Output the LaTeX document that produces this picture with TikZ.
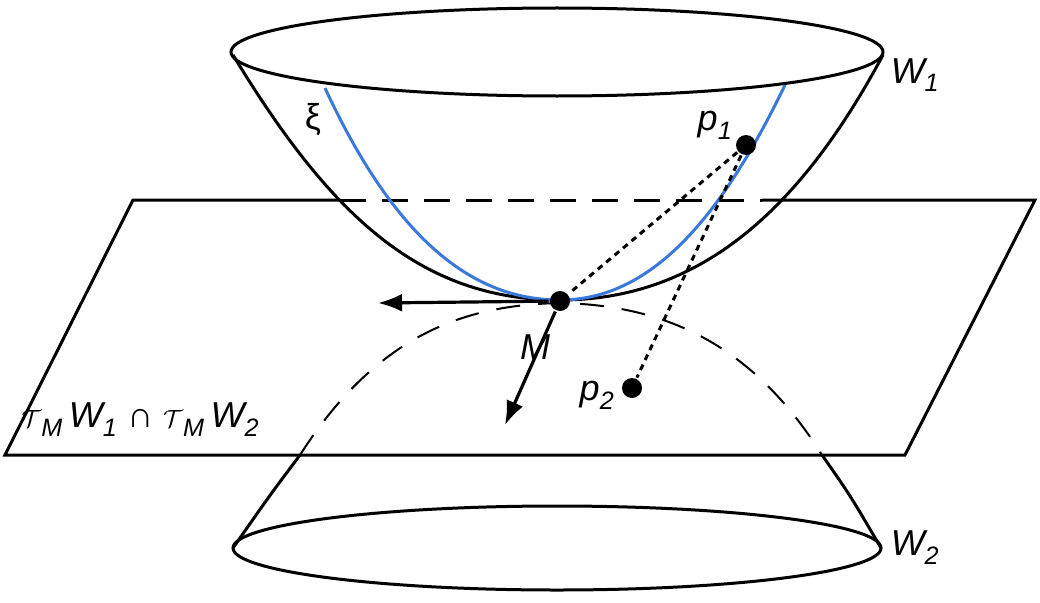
\documentclass[tikz,border=0pt]{standalone}
\usepackage{fontspec}
\setmainfont{Liberation Sans}
\usepackage{tikz}
\usetikzlibrary{arrows.meta}

\begin{document}
\begin{tikzpicture}
            [x=1pt, y=-1pt, line width=3pt,
             dot/.style={circle, fill=black, minimum size=20pt, inner sep=0pt},
             lbl/.style={inner sep=0pt, font=\fontsize{36}{36}\selectfont\itshape},
             dotted line/.style={line width=3pt, dash pattern=on 6pt off 5pt}]
                \useasboundingbox (0,0) rectangle (1040,602);
                \coordinate (pa) at (133,200);
                \coordinate (pb) at (1035,200);
                \coordinate (pc) at (905,455);
                \coordinate (pd) at (5,455);
                \coordinate (t1) at (340,200);
                \coordinate (t2) at (762,200);
                \draw (t1) -- (pa) -- (pd) -- (pc) -- (pb) -- (t2);
                \draw [dashed, dash pattern=on 26pt off 16pt] (t1) -- (t2);
                \draw (557,52) ellipse [x radius=326, y radius=44];
                % bowl
                \draw (233,55) .. controls (330,215) and (420,300) .. (560,300)
                               .. controls (700,300) and (800,210) .. (883,55);
                \draw [color={rgb,255:red,58;green,120;blue,220}, line width=3pt] (325,88) .. controls (400,250) and (480,300) .. (560,300)
                               .. controls (650,300) and (720,220) .. (785,85);
                \draw [dashed, line width=2pt, dash pattern=on 24pt off 18pt] (300,455) .. controls (380,330) and (470,305) .. (560,303)
                               .. controls (660,305) and (750,340) .. (822,455);
                \draw (300,455) .. controls (270,495) .. (233,548);
                \draw (822,455) .. controls (850,495) .. (881,548);
                \draw (557,548) ellipse [x radius=324, y radius=42];
                \node (M) [dot] at (560,301) {};
                \node (p1) [dot] at (746,145) {};
                \node (p2) [dot] at (632,388) {};
                \coordinate (e1) at (378,303);
                \coordinate (e2) at (505,425);
                \draw [-{Latex[length=24pt, width=18pt]}, line width=3.2pt] (M) -- (e1);
                \draw [-{Latex[length=24pt, width=18pt]}, line width=3.2pt] (M) -- (e2);
                \draw [dotted line] (p1) -- (M);
                \draw [dotted line] (p1) -- (p2);
                \node (lp1) [lbl] at (715,125) {p\textsubscript{1}};
                \node (lp2) [lbl] at (597,395) {p\textsubscript{2}};
                \node (lM) [lbl] at (535,347) {M};
                \node (lxi) [lbl, font=\fontsize{36}{36}\selectfont] at (313,120) {ξ};
                \node (lW1) [lbl] at (915,75) {W\textsubscript{1}};
                \node (lW2) [lbl] at (915,548) {W\textsubscript{2}};
                \node (lT) [lbl, anchor=west] at (20,420) {$\mathcal{T}$\textsubscript{M}\,W\textsubscript{1} {\upshape ∩} $\mathcal{T}$\textsubscript{M}\,W\textsubscript{2}};
            \end{tikzpicture}
\end{document}
